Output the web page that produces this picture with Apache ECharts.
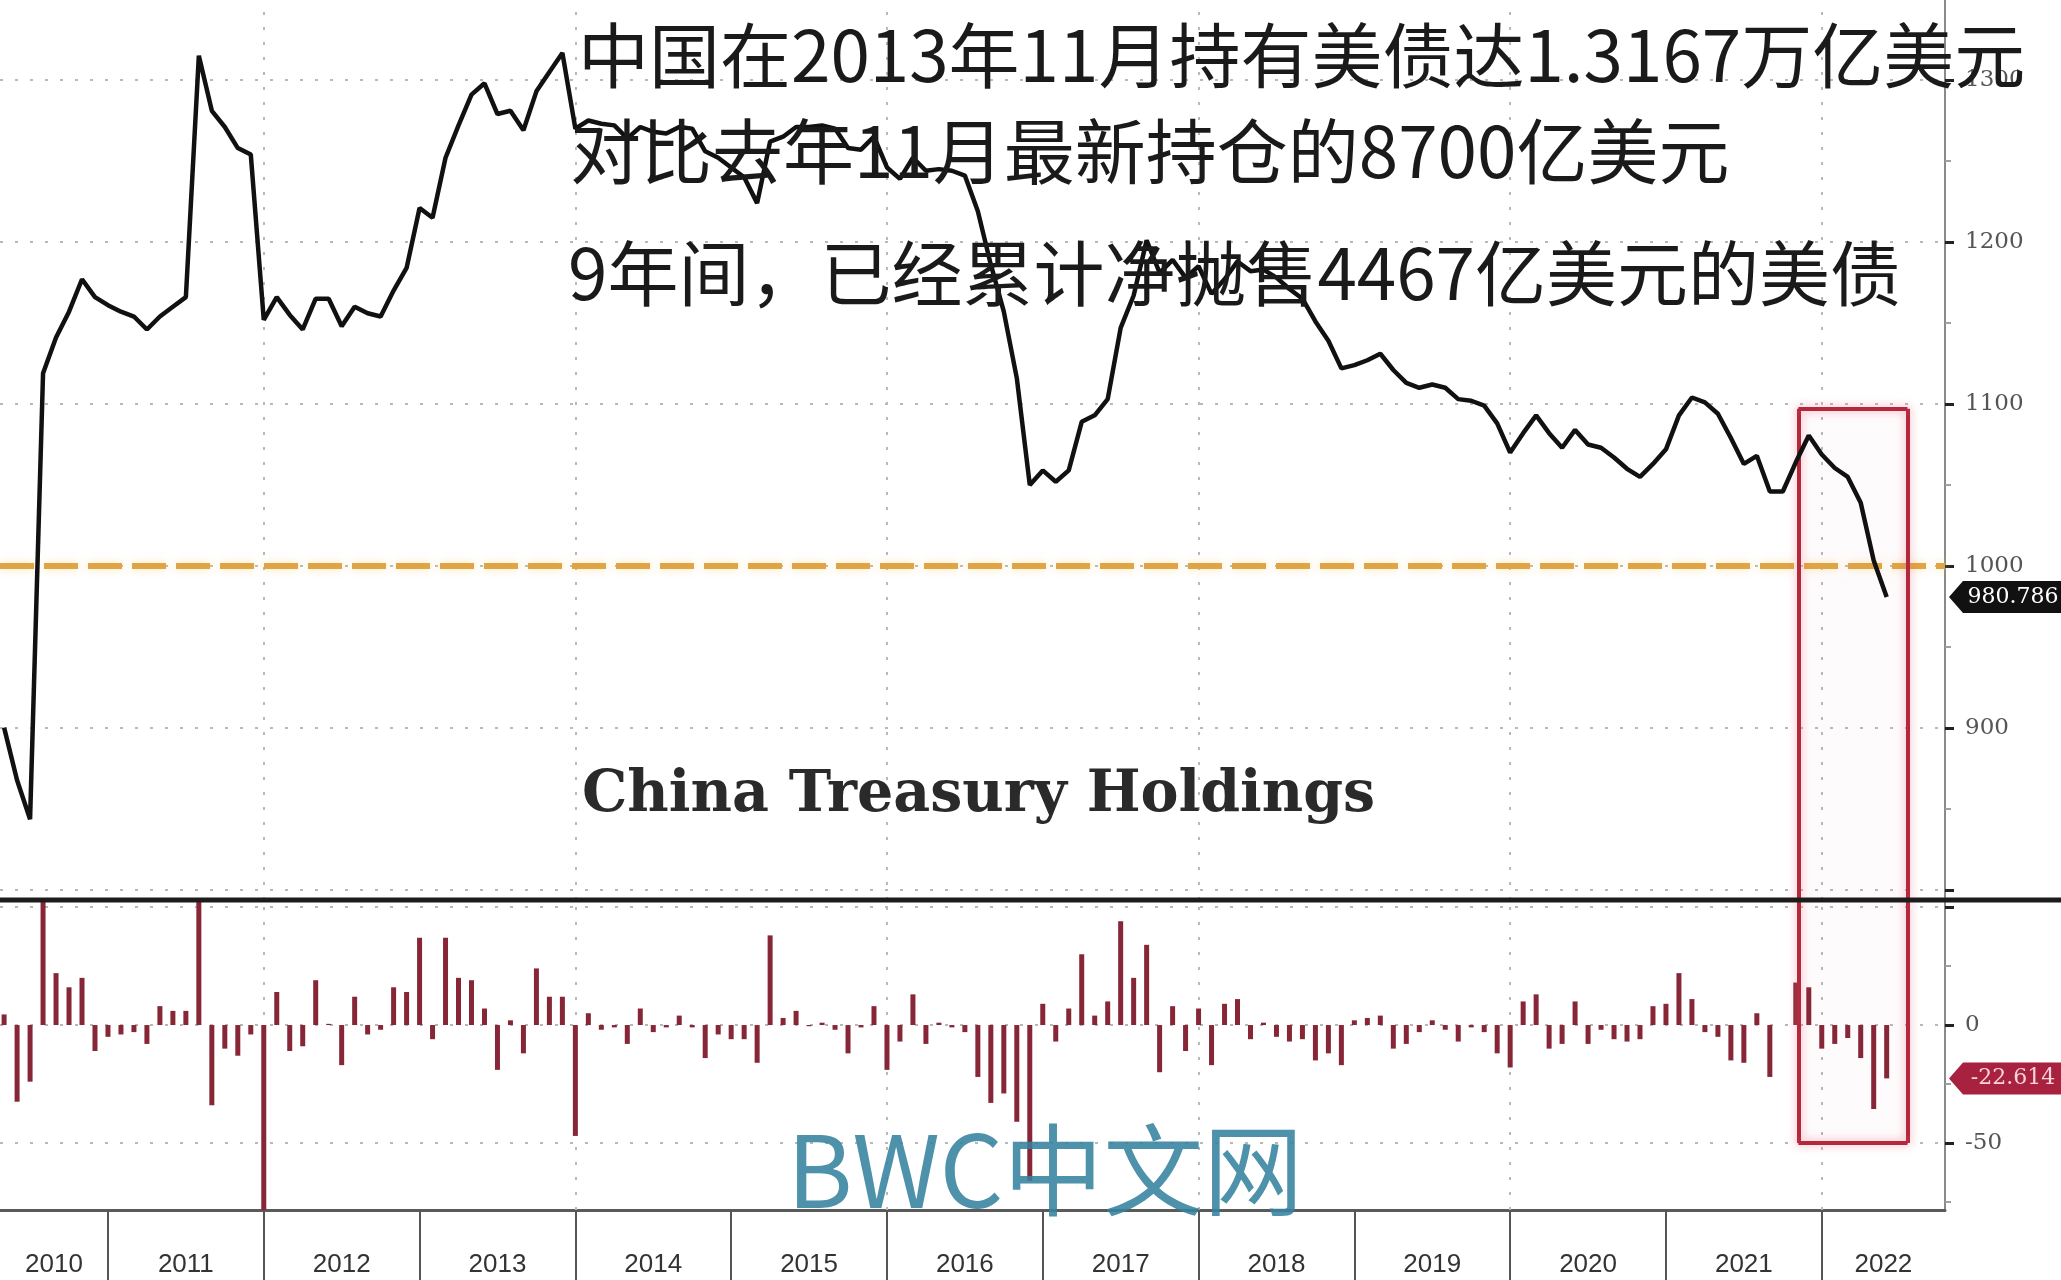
<!DOCTYPE html>
<html>
<head>
<meta charset="utf-8">
<script src="https://cdn.jsdelivr.net/npm/echarts@6/dist/echarts.min.js"></script>
<style>
html,body{margin:0;padding:0;background:#fff;}
#c{width:2061px;height:1280px;}
</style>
</head>
<body>
<div id="c"></div>
<script>
// ---------------- data ----------------
// first observation = end of April 2010, monthly to end of May 2022
const startYear = 2010;
const startMonth = 4;

// China holdings of US Treasuries (USD bn), month-end values
const holdings = [
  900.2, 867.7, 843.7, 1119, 1141, 1157, 1177, 1166, 1161,                 // 2010 Apr-Dec
  1157, 1154, 1146, 1154, 1160, 1166, 1315, 1281, 1271, 1258, 1254, 1152,  // 2011
  1166, 1155, 1146, 1165, 1165, 1148, 1160, 1156, 1154, 1170, 1184, 1221,  // 2012
  1215, 1252, 1272, 1291, 1298, 1279, 1281, 1269, 1293, 1305, 1316.7, 1270,// 2013
  1275, 1273, 1272, 1264, 1271, 1268, 1267, 1271, 1270, 1256, 1252, 1246,  // 2014
  1240, 1224, 1262, 1265, 1271, 1271, 1272, 1270, 1258, 1257, 1265, 1246,  // 2015
  1239, 1252, 1244, 1245, 1244, 1241, 1219, 1186, 1157, 1116, 1050, 1059,  // 2016
  1052, 1059, 1089, 1093, 1103, 1147, 1167, 1201, 1181, 1189, 1178, 1185,  // 2017
  1168, 1177, 1188, 1182, 1183, 1178, 1171, 1165, 1151, 1139, 1122, 1124,  // 2018
  1127, 1131, 1121, 1113, 1110, 1112, 1110, 1103, 1102, 1099, 1088, 1070,  // 2019
  1082, 1093, 1082, 1073, 1084, 1075, 1073, 1067, 1060, 1055, 1063, 1072,  // 2020
  1093, 1104, 1101, 1094, 1079, 1063, 1068, 1046, 1046, 1064, 1080.5, 1068.8, // 2021
  1060.5, 1055, 1039, 1003.4, 980.786                                       // 2022 Jan-May
];

// Monthly change (USD bn)
const monthlyChange = [
  4.5, -32.5, -24, 275, 22, 16, 20, -11, -5,                  // 2010 Apr-Dec
  -4, -3, -8, 8, 6, 6, 149, -34, -10, -13, -4, -102,          // 2011
  14, -11, -9, 19, 0.5, -17, 12, -4, -2, 16, 14, 37,          // 2012
  -6, 37, 20, 19, 7, -19, 2, -12, 24, 12, 12, -47,            // 2013
  5, -2, -1, -8, 7, -3, -1, 4, -1, -14, -4, -6,               // 2014
  -6, -16, 38, 3, 6, -0.5, 1, -2, -12, -1, 8, -19,            // 2015
  -7, 13, -8, 1, -1, -3, -22, -33, -29, -41, -66, 9,          // 2016
  -7, 7, 30, 4, 10, 44, 20, 34, -20, 8, -11, 7,               // 2017
  -17, 9, 11, -6, 1, -5, -7, -6, -15, -12, -17, 2,            // 2018
  3, 4, -10, -8, -3, 2, -2, -7, -1, -3, -12, -18,             // 2019
  10, 13, -10, -8, 10, -8, -2, -6, -7, -6, 8, 9,              // 2020
  22, 11, -3, -5, -15, -16, 5, -22, 0, 18, 16, -10,           // 2021
  -8, -5.5, -14, -35.6, -22.614                               // 2022 Jan-May
];

const yearBounds = [2011, 2012, 2013, 2014, 2015, 2016, 2017, 2018, 2019, 2020, 2021, 2022];
const yearLabels = [2010, 2011, 2012, 2013, 2014, 2015, 2016, 2017, 2018, 2019, 2020, 2021, 2022];
const gridYears = [2012, 2014, 2016, 2018, 2020, 2022];

const upperTicks = [800, 900, 1000, 1100, 1200, 1300];
const upperLabels = [900, 1000, 1100, 1200, 1300];
const upperMinor = [850, 950, 1050, 1150, 1250];
const lowerTicks = [50, 0, -50];
const lowerLabels = [0, -50];
const lowerMinor = [25, -25, -75];

const refLevel = 1000;
const highlightX = [2021.85, 2022.55];   // red box (decimal years)
const highlightTop = 1097;              // upper panel value
const highlightBottom = -50;            // lower panel value

const chartTitle = 'China Treasury Holdings';
const notes = [
  '中国在2013年11月持有美债达1.3167万亿美元',
  '对比去年11月最新持仓的8700亿美元',
  '9年间，已经累计净抛售4467亿美元的美债'
];
const watermark = 'BWC中文网';

// ---------------- axes extents ----------------
const X_MIN = 2010.307, X_MAX = 2022.791;
const Y1_MIN = 793.8, Y1_MAX = 1349.4;
const Y2_MIN = -78.4, Y2_MAX = 53.0;

const xOf = i => startYear + (startMonth + i) / 12;
const lineData = holdings.map((v, i) => [xOf(i), v]);
const barData = monthlyChange.map((v, i) => [xOf(i), v]);
const labelCenters = yearLabels.map(y => (Math.max(y, X_MIN) + Math.min(y + 1, X_MAX)) / 2);

const lastHold = holdings[holdings.length - 1];
const lastChg = monthlyChange[monthlyChange.length - 1];

const gridDot = { color: '#b8b8b8', width: 2, type: [3, 12] };
const boxStyle = { color: '#B3283C', width: 4, type: 'solid', shadowBlur: 10, shadowColor: 'rgba(240,110,130,0.6)' };
const tagPath = 'path://M0,16 L14,0 L120,0 L120,32 L14,32 Z';

function boxSegments(yTop, yBottom, drawTop, drawBottom) {
  const segs = [
    [{ coord: [highlightX[0], yTop] }, { coord: [highlightX[0], yBottom] }],
    [{ coord: [highlightX[1], yTop] }, { coord: [highlightX[1], yBottom] }]
  ];
  if (drawTop) segs.push([{ coord: [highlightX[0], yTop] }, { coord: [highlightX[1], yTop] }]);
  if (drawBottom) segs.push([{ coord: [highlightX[0], yBottom] }, { coord: [highlightX[1], yBottom] }]);
  return segs.map(s => { s[0].lineStyle = boxStyle; return s; });
}

function yAxisMajor(gridIndex, min, max, ticks, labels) {
  return {
    type: 'value', gridIndex, position: 'right', min, max,
    axisLine: { show: true, lineStyle: { color: '#8a8a8a', width: 2 } },
    axisTick: { show: true, customValues: ticks, length: 9, lineStyle: { color: '#222', width: 3 } },
    axisLabel: { show: true, customValues: labels, margin: 20, fontSize: 23,
      fontFamily: 'DejaVu Serif', color: '#555', formatter: v => String(v) },
    splitLine: { show: false }
  };
}
function yAxisMinor(gridIndex, min, max, ticks) {
  return {
    type: 'value', gridIndex, position: 'right', min, max,
    axisLine: { show: false },
    axisTick: { show: true, customValues: ticks, length: 6, lineStyle: { color: '#a0a0a0', width: 2 } },
    axisLabel: { show: false },
    splitLine: { show: false }
  };
}

const option = {
  animation: false,
  backgroundColor: '#ffffff',
  grid: [
    { left: 0, top: 0, width: 1945, height: 900, outerBoundsMode: 'none', containLabel: false },
    { left: 0, top: 900, width: 1945, height: 310, outerBoundsMode: 'none', containLabel: false }
  ],
  title: [
    { text: chartTitle, left: 582, top: 768, padding: 0,
      textStyle: { fontFamily: 'DejaVu Serif', fontWeight: 'bold', fontSize: 57, color: '#2a2a2a' } },
    { text: notes[0], left: 578, top: 20, padding: 0,
      textStyle: { fontFamily: 'Noto Sans CJK SC', fontWeight: 'normal', fontSize: 71, color: '#1a1a1a' } },
    { text: notes[1], left: 570, top: 116, padding: 0,
      textStyle: { fontFamily: 'Noto Sans CJK SC', fontWeight: 'normal', fontSize: 71, color: '#1a1a1a' } },
    { text: notes[2], left: 568, top: 238, padding: 0,
      textStyle: { fontFamily: 'Noto Sans CJK SC', fontWeight: 'normal', fontSize: 71, color: '#1a1a1a' } },
    { text: watermark, left: 787, top: 1120, padding: 0,
      textStyle: { fontFamily: 'Noto Sans CJK SC', fontWeight: 'normal', fontSize: 100, color: 'rgba(52,130,158,0.88)' } }
  ],
  xAxis: [
    { type: 'value', gridIndex: 0, min: X_MIN, max: X_MAX, show: false },
    { type: 'value', gridIndex: 1, min: X_MIN, max: X_MAX,
      axisLine: { show: true, onZero: false, lineStyle: { color: '#5a5a5a', width: 3 } },
      axisTick: { show: true, customValues: yearBounds, length: 72, lineStyle: { color: '#555', width: 2 } },
      axisLabel: { show: true, customValues: labelCenters, margin: 42, fontSize: 26,
        fontFamily: 'Liberation Sans', color: '#333', formatter: v => String(Math.floor(v)) },
      splitLine: { show: false } }
  ],
  yAxis: [
    yAxisMajor(0, Y1_MIN, Y1_MAX, upperTicks, upperLabels),
    yAxisMajor(1, Y2_MIN, Y2_MAX, lowerTicks, lowerLabels),
    yAxisMinor(0, Y1_MIN, Y1_MAX, upperMinor),
    yAxisMinor(1, Y2_MIN, Y2_MAX, lowerMinor)
  ],
  graphic: [
    { type: 'line', z: 50, shape: { x1: 0, y1: 900, x2: 2061, y2: 900 },
      style: { stroke: '#1c1c1c', lineWidth: 5 } }
  ],
  series: [
    // grid lines (upper)
    { type: 'line', xAxisIndex: 0, yAxisIndex: 0, data: [], silent: true, z: 1,
      markLine: { silent: true, z: 1, symbol: 'none', label: { show: false }, lineStyle: gridDot,
        data: upperTicks.map(v => ({ yAxis: v })).concat(gridYears.map(v => ({ xAxis: v }))) } },
    // grid lines (lower)
    { type: 'line', xAxisIndex: 1, yAxisIndex: 1, data: [], silent: true, z: 1,
      markLine: { silent: true, z: 1, symbol: 'none', label: { show: false }, lineStyle: gridDot,
        data: lowerTicks.map(v => ({ yAxis: v })).concat(gridYears.map(v => ({ xAxis: v }))) } },
    // holdings line
    { name: 'Holdings', type: 'line', xAxisIndex: 0, yAxisIndex: 0, data: lineData,
      showSymbol: false, symbol: 'none', z: 3,
      lineStyle: { color: '#111', width: 4.5 },
      markArea: { silent: true, z: 1, itemStyle: { color: 'rgba(240,160,175,0.04)' },
        data: [[{ coord: [highlightX[0], highlightTop] }, { coord: [highlightX[1], Y1_MIN] }]] },
      markLine: { silent: true, z: 2, symbol: 'none', label: { show: false },
        data: [
          { yAxis: refLevel, lineStyle: { color: '#DFA443', width: 6, type: [34, 10],
            shadowBlur: 10, shadowColor: 'rgba(245,210,130,0.6)' } }
        ].concat(boxSegments(highlightTop, Y1_MIN, true, false)) },
      markPoint: { silent: true, z: 6,
        data: [{ coord: [X_MAX, lastHold], value: lastHold }],
        symbol: tagPath, symbolSize: [120, 32], symbolOffset: [64, 0],
        itemStyle: { color: '#111' },
        label: { show: true, position: 'inside', offset: [4, 0], formatter: p => p.value.toFixed(3),
          color: '#fff', fontSize: 22, fontFamily: 'DejaVu Serif' } } },
    // monthly change bars
    { name: 'Change', type: 'bar', xAxisIndex: 1, yAxisIndex: 1, data: barData,
      barWidth: 5, z: 3, itemStyle: { color: '#862637' },
      markArea: { silent: true, z: 1, itemStyle: { color: 'rgba(240,160,175,0.04)' },
        data: [[{ coord: [highlightX[0], Y2_MAX] }, { coord: [highlightX[1], highlightBottom] }]] },
      markLine: { silent: true, z: 4, symbol: 'none', label: { show: false },
        data: boxSegments(Y2_MAX, highlightBottom, false, true) },
      markPoint: { silent: true, z: 6,
        data: [{ coord: [X_MAX, lastChg], value: lastChg }],
        symbol: tagPath, symbolSize: [120, 32], symbolOffset: [64, 0],
        itemStyle: { color: '#A8213F' },
        label: { show: true, position: 'inside', offset: [4, 0], formatter: p => p.value.toFixed(3),
          color: '#f6d3da', fontSize: 22, fontFamily: 'DejaVu Serif' } } }
  ]
};

const chart = echarts.init(document.getElementById('c'), null, { renderer: 'canvas', width: 2061, height: 1280 });
chart.setOption(option);
</script>
</body>
</html>
